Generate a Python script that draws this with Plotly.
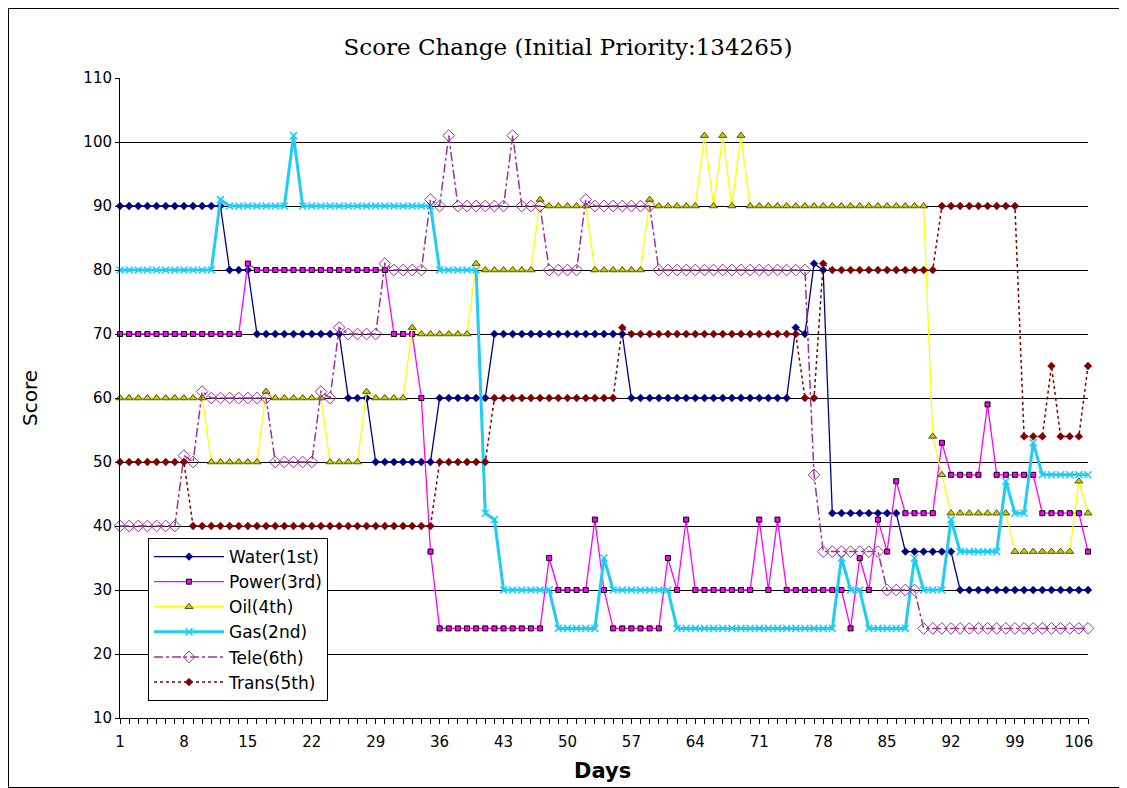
import plotly.graph_objects as go

days = list(range(1, 108))

water = [90,90,90,90,90,90,90,90,90,90,
         90,90,80,80,80,70,70,70,70,70,
         70,70,70,70,70,60,60,60,50,50,
         50,50,50,50,50,60,60,60,60,60,
         60,70,70,70,70,70,70,70,70,70,
         70,70,70,70,70,70,60,60,60,60,
         60,60,60,60,60,60,60,60,60,60,
         60,60,60,60,71,70,81,80,42,42,
         42,42,42,42,42,42,36,36,36,36,
         36,36,30,30,30,30,30,30,30,30,
         30,30,30,30,30,30,30]

power = [70,70,70,70,70,70,70,70,70,70,
         70,70,70,70,81,80,80,80,80,80,
         80,80,80,80,80,80,80,80,80,80,
         70,70,70,60,36,24,24,24,24,24,
         24,24,24,24,24,24,24,35,30,30,
         30,30,41,30,24,24,24,24,24,24,
         35,30,41,30,30,30,30,30,30,30,
         41,30,41,30,30,30,30,30,30,30,
         24,35,30,41,36,47,42,42,42,42,
         53,48,48,48,48,59,48,48,48,48,
         48,42,42,42,42,42,36]

oil = [60,60,60,60,60,60,60,60,60,60,
       50,50,50,50,50,50,61,60,60,60,
       60,60,60,50,50,50,50,61,60,60,
       60,60,71,70,70,70,70,70,70,81,
       80,80,80,80,80,80,91,90,90,90,
       90,90,80,80,80,80,80,80,91,90,
       90,90,90,90,101,90,101,90,101,90,
       90,90,90,90,90,90,90,90,90,90,
       90,90,90,90,90,90,90,90,90,54,
       48,42,42,42,42,42,42,42,36,36,
       36,36,36,36,36,47,42]

gas = [80,80,80,80,80,80,80,80,80,80,
       80,91,90,90,90,90,90,90,90,101,
       90,90,90,90,90,90,90,90,90,90,
       90,90,90,90,90,80,80,80,80,80,
       42,41,30,30,30,30,30,30,24,24,
       24,24,24,35,30,30,30,30,30,30,
       30,24,24,24,24,24,24,24,24,24,
       24,24,24,24,24,24,24,24,24,35,
       30,30,24,24,24,24,24,35,30,30,
       30,41,36,36,36,36,36,47,42,42,
       53,48,48,48,48,48,48]

tele = [40,40,40,40,40,40,40,51,50,61,
        60,60,60,60,60,60,60,50,50,50,
        50,50,61,60,71,70,70,70,70,81,
        80,80,80,80,91,90,101,90,90,90,
        90,90,90,101,90,90,90,80,80,80,
        80,91,90,90,90,90,90,90,90,80,
        80,80,80,80,80,80,80,80,80,80,
        80,80,80,80,80,80,48,36,36,36,
        36,36,36,36,30,30,30,30,24,24,
        24,24,24,24,24,24,24,24,24,24,
        24,24,24,24,24,24,24]

trans = [50,50,50,50,50,50,50,50,40,40,
         40,40,40,40,40,40,40,40,40,40,
         40,40,40,40,40,40,40,40,40,40,
         40,40,40,40,40,50,50,50,50,50,
         50,60,60,60,60,60,60,60,60,60,
         60,60,60,60,60,71,70,70,70,70,
         70,70,70,70,70,70,70,70,70,70,
         70,70,70,70,70,60,60,81,80,80,
         80,80,80,80,80,80,80,80,80,80,
         90,90,90,90,90,90,90,90,90,54,
         54,54,65,54,54,54,65]

x_ticks = list(range(1, 108, 7))

# page body has an 8px margin; figure is placed at (8, 8)
OFF = 8
W, H = 1127 - OFF, 788 - OFF
PL, PR, PT, PB = 120, 1088, 78, 718          # plot area in screen pixels
L, T = PL - OFF, PT - OFF
R = W - (PR - OFF)
B = H - (PB - OFF)
pw, ph = PR - PL, PB - PT

def px(xs):  # screen x -> paper
    return (xs - PL) / pw

def py(ys):  # screen y -> paper
    return (PB - ys) / ph

fig = go.Figure()

def add(name, y, color, width, dash, symbol, msize, mcolor, mline, mlw, group):
    fig.add_trace(go.Scatter(
        x=days, y=y, name=name, mode="lines+markers",
        line=dict(color=color, width=width, dash=dash),
        marker=dict(symbol=symbol, size=msize, color=mcolor,
                    line=dict(color=mline, width=mlw)),
        cliponaxis=False, legendgroup=group))

add("Water(1st)", water, "#000080", 1.3, "solid", "diamond", 6, "#000080", "#000080", 0.5, "a")
add("Power(3rd)", power, "#FF00FF", 1.3, "solid", "square", 5, "#FF00FF", "#000000", 1, "b")
add("Oil(4th)", oil, "#FFFF00", 1.3, "solid", "triangle-up", 7, "#CCCC00", "#4B5320", 1, "c")
add("Gas(2nd)", gas, "#1FCCF5", 3, "solid", "x-thin-open", 7, "#1FCCF5", "#1FCCF5", 1.5, "d")
add("Tele(6th)", tele, "#993399", 1.5, "dashdot", "diamond-open", 9, "#993399", "#993399", 1, "e")
add("Trans(5th)", trans, "#800000", 1.5, "dot", "diamond", 6, "#800000", "#800000", 0.5, "f")

fig.update_layout(
    width=W, height=H,
    margin=dict(l=L, r=R, t=T, b=B, autoexpand=False),
    paper_bgcolor="white", plot_bgcolor="white",
    font=dict(family="DejaVu Sans, sans-serif", color="black"),
    title=dict(text="Score Change (Initial Priority:134265)",
               x=(568 - OFF) / W, xanchor="center", y=1 - (47 - OFF) / H, yanchor="middle",
               font=dict(family="DejaVu Serif, serif", size=23, color="black")),
    showlegend=True,
    legend=dict(x=px(148), y=py(538), xanchor="left", yanchor="top",
                bordercolor="black", borderwidth=1, bgcolor="white",
                font=dict(size=17, family="DejaVu Sans, sans-serif"),
                tracegroupgap=0, itemwidth=70),
    xaxis=dict(range=[1, 107], tickmode="array", tickvals=x_ticks,
               ticktext=[str(v) for v in x_ticks],
               showgrid=False, zeroline=False, showline=True, linecolor="black", linewidth=1,
               ticks="outside", ticklen=5, tickcolor="black", ticklabelstandoff=5,
               minor=dict(dtick=1, tick0=1, ticks="outside", ticklen=5, tickcolor="black"),
               tickfont=dict(size=15)),
    yaxis=dict(range=[10, 110], dtick=10, tick0=10, showgrid=True, gridcolor="black", gridwidth=1,
               zeroline=False, showline=True, linecolor="black", linewidth=1,
               ticks="outside", ticklen=4, tickcolor="black",
               tickfont=dict(size=15)),
    annotations=[
        dict(text="Score", x=px(30), y=0.5, xref="paper", yref="paper",
             textangle=-90, showarrow=False, xanchor="center", yanchor="middle",
             font=dict(size=20, family="DejaVu Sans, sans-serif")),
        dict(text="<b>Days</b>", x=px(602), y=py(771), xref="paper", yref="paper",
             showarrow=False, xanchor="center", yanchor="middle",
             font=dict(size=21, family="DejaVu Sans, sans-serif")),
    ],
    shapes=[dict(type="rect", xref="paper", yref="paper",
                 x0=px(OFF + 0.5), x1=px(1126.5),
                 y0=py(787.5), y1=py(OFF + 0.5),
                 line=dict(color="black", width=1), layer="below")],
)

fig.write_html("out.html")
